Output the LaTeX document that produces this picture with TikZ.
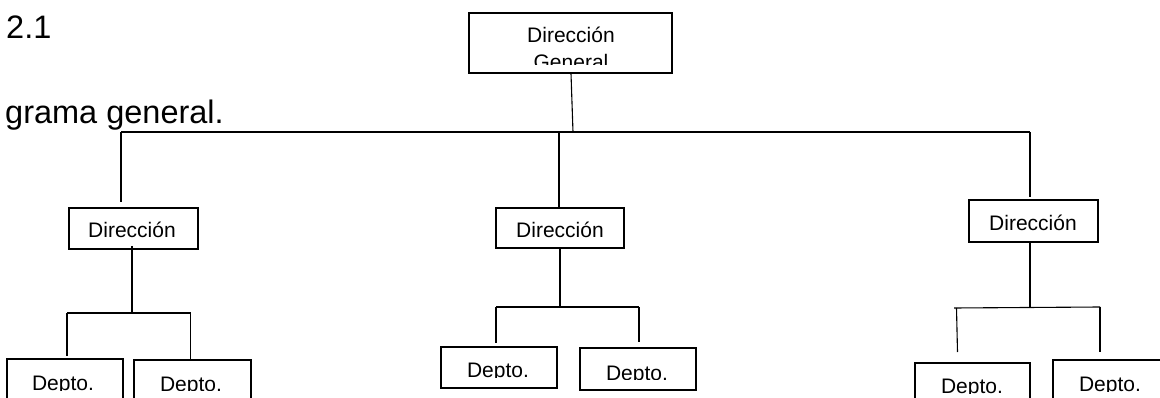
\documentclass[tikz,border=0pt]{standalone}
\usepackage{fontspec}
\setmainfont{Liberation Sans}
\begin{document}
\begin{tikzpicture}[x=1pt,y=-1pt,
  box/.style={draw=black,line width=1.2pt,inner sep=0pt,fill=white},
  link/.style={draw=black,line width=1.1pt},
  lbl/.style={anchor=base,inner sep=0pt,font=\fontsize{21}{26}\selectfont},
  head/.style={anchor=base west,inner sep=0pt,font=\fontsize{32.5}{36}\selectfont}]
\clip (0,0) rectangle (1160,398);
\fill[white] (0,0) rectangle (1160,398);

% page text
\node[head] (num) at (6,39) {2.1};
\node[head] (cap) at (5,124) {grama general.};

% general direction
\node[box,minimum width=203pt,minimum height=60pt] (dg) at (570.5,43) {};
\begin{scope}
  \clip (470,14) rectangle (671,65);
  \node[lbl] (dgA) at (571,43) {Dirección};
  \node[lbl] (dgB) at (571,69.5) {General};
\end{scope}

% directions
\node[box,minimum width=129pt,minimum height=41pt] (dL) at (133.5,228.5) {};
\node[lbl] (dLt) at (132,238) {Dirección};
\node[box,minimum width=128pt,minimum height=40pt] (dM) at (560,228) {};
\node[lbl] (dMt) at (560,238) {Dirección};
\node[box,minimum width=129pt,minimum height=42pt] (dR) at (1033.5,221) {};
\node[lbl] (dRt) at (1033,231) {Dirección};

% departments
\node[box,minimum width=116pt,minimum height=52pt] (pL1) at (65,385) {};
\node[box,minimum width=117pt,minimum height=52pt] (pL2) at (192.5,386) {};
\node[box,minimum width=116pt,minimum height=41pt] (pM1) at (499,367.5) {};
\node[box,minimum width=116pt,minimum height=42pt] (pM2) at (638,369) {};
\node[box,minimum width=115pt,minimum height=52pt] (pR1) at (972.5,389) {};
\node[box,minimum width=115pt,minimum height=52pt] (pR2) at (1110.5,386) {};
\begin{scope}\clip (8,360) rectangle (122,390.5);
  \node[lbl] (pL1t) at (63,390.5) {Depto.};\end{scope}
\begin{scope}\clip (135,361) rectangle (250,390.5);
  \node[lbl] (pL2t) at (191,391) {Depto.};\end{scope}
\begin{scope}\clip (442,348) rectangle (556,377);
  \node[lbl] (pM1t) at (498,377) {Depto.};\end{scope}
\begin{scope}\clip (581,349) rectangle (695,379.5);
  \node[lbl] (pM2t) at (637,380) {Depto.};\end{scope}
\begin{scope}\clip (916,364) rectangle (1029,393.5);
  \node[lbl] (pR1t) at (972,393.5) {Depto.};\end{scope}
\begin{scope}\clip (1054,361) rectangle (1160,391);
  \node[lbl] (pR2t) at (1110,391) {Depto.};\end{scope}

% junction points
\coordinate (top) at (573,132);
\coordinate (barL) at (121,132);
\coordinate (barR) at (1030,132);
\coordinate (barM) at (559,132);
\coordinate (endL) at (121,202);
\coordinate (endR) at (1030,197);
\coordinate (sL) at (132,246);
\coordinate (jL) at (132,313);
\coordinate (bL1) at (67,313);
\coordinate (bL2) at (190.5,313);
\coordinate (eL1) at (67,356);
\coordinate (eL2) at (190.5,360);
\coordinate (jM) at (560,307);
\coordinate (bM1) at (496,307);
\coordinate (bM2) at (639,307);
\coordinate (eM1) at (496,343);
\coordinate (eM2) at (639,342);
\coordinate (jR) at (1030,307.5);
\coordinate (bR1) at (954,308);
\coordinate (bR1s) at (956.5,308);
\coordinate (bR2) at (1100,307);
\coordinate (eR1) at (957.5,352);
\coordinate (eR2) at (1100,352);

% connectors
\draw[link] (dg.south -| 571,0) -- (top);
\draw[link] (barL) -- (barR);
\draw[link] (barL) -- (endL);
\draw[link] (barM) -- (dM.north -| barM);
\draw[link] (barR) -- (endR);

\draw[link] (sL) -- (jL);
\draw[link] (bL1) -- (bL2);
\draw[link] (bL1) -- (eL1);
\draw[link] (bL2) -- (eL2);

\draw[link] (dM.south) -- (jM);
\draw[link] (bM1) -- (bM2);
\draw[link] (bM1) -- (eM1);
\draw[link] (bM2) -- (eM2);

\draw[link] (dR.south -| jR) -- (jR);
\draw[link] (bR1) -- (bR2);
\draw[link] (bR1s) -- (eR1);
\draw[link] (bR2) -- (eR2);
\end{tikzpicture}
\end{document}
